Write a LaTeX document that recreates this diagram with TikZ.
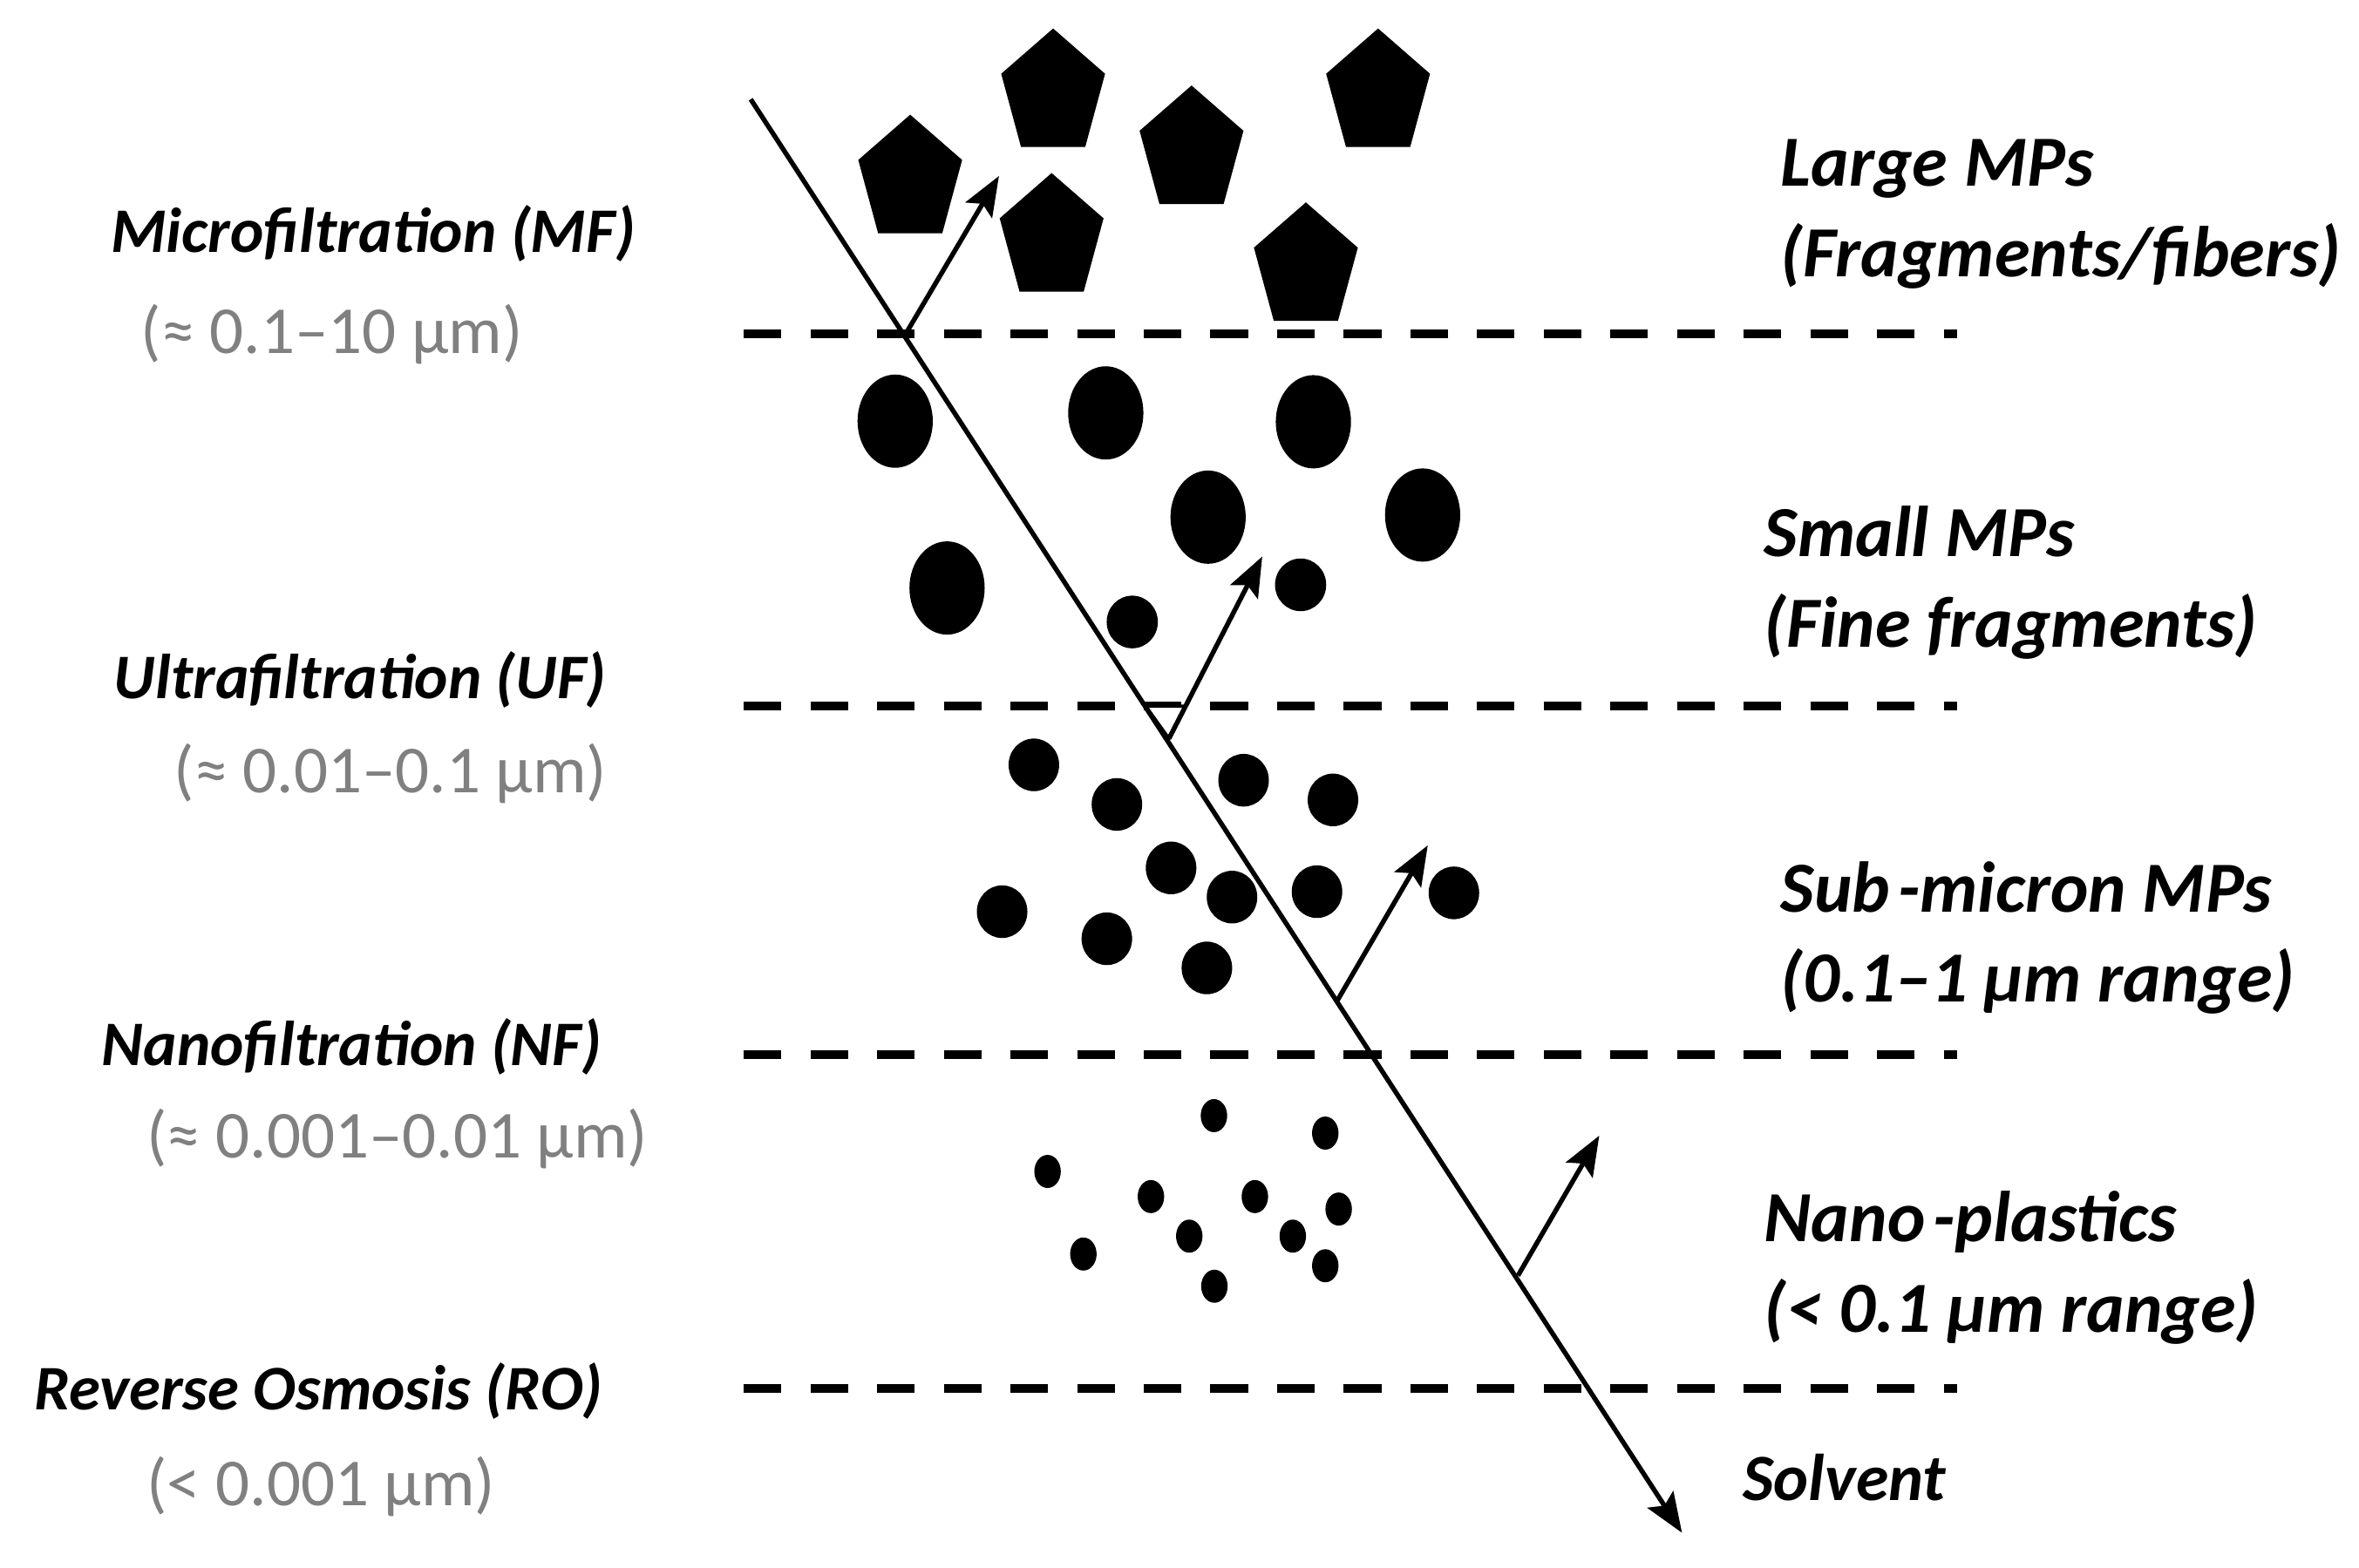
\documentclass[tikz,border=0pt]{standalone}
\usepackage{fontspec}
\setmainfont{Carlito}
\usetikzlibrary{arrows.meta}
\definecolor{graytxt}{RGB}{128,128,128}
\begin{document}
\begin{tikzpicture}[x=0.01cm,y=-0.01cm,
  dashline/.style={line width=1.6pt, dash pattern=on 7.1pt off 5.5pt},
  flowline/.style={line width=0.9pt, -{Stealth[length=7.5pt,width=5.8pt,inset=1.4pt]}},
  proc/.style={anchor=west, inner sep=0pt, font=\fontsize{12}{14}\selectfont\bfseries\itshape},
  rng/.style={anchor=west, inner sep=0pt, text=graytxt, font=\fontsize{12.7}{15}\selectfont},
  cls/.style={anchor=west, inner sep=0pt, align=left, font=\fontsize{13.6}{17.1}\selectfont\bfseries\itshape}]
\useasboundingbox (0,0) rectangle (1568,1042);

% membrane levels (dashed)
\foreach \y/\n in {221.8/mf,469.4/uf,701.2/nf,923/ro}{
  \coordinate (\n-l) at (494.4,\y);
  \coordinate (\n-r) at (1301,\y);
  \draw[dashline] (\n-l) -- (\n-r);
}

% small triangle at UF crossing
\coordinate (t1) at (761.5,469.4);
\coordinate (t2) at (788,469.4);
\coordinate (t3) at (777,491);
\filldraw[fill=white, draw=black, line width=0.6pt] (t1) -- (t2) -- (t3) -- cycle;

% main solvent flow
\coordinate (top) at (499,66);
\coordinate (bot) at (1118,1019);
\draw[flowline] (top) -- (bot);

% rejection arrows
\coordinate (a1s) at (602,222);  \coordinate (a1e) at (664,117);
\coordinate (a2s) at (777,491);  \coordinate (a2e) at (839,370);
\coordinate (a3s) at (889,665);  \coordinate (a3e) at (949,562);
\coordinate (a4s) at (1009,848); \coordinate (a4e) at (1063,755);
\draw[flowline] (a1s) -- (a1e);
\draw[flowline] (a2s) -- (a2e);
\draw[flowline] (a3s) -- (a3e);
\draw[flowline] (a4s) -- (a4e);

% large MPs (pentagons)
\foreach \px/\py in {605/119.8,700/62.5,792/100.4,916/62.5,699/158.6,868/178.1}{
  \fill[shift={(\px,\py)},yscale=1.2] (-90:36.3) -- (-18:36.3) -- (54:36.3) -- (126:36.3) -- (198:36.3) -- cycle;
}

% small MPs (ellipses)
\foreach \px/\py in {595/280,735/274.5,873/280.4,803/343.8,945.6/342.4,629.5/390.9}{
  \fill (\px,\py) ellipse [x radius=25, y radius=31];
}
\foreach \px/\py in {752.6/413.5,864.5/388.8}{
  \fill (\px,\py) ellipse [x radius=17, y radius=17.5];
}

% sub-micron MPs
\foreach \px/\py in {687.2/508.5,742.4/534.8,826.6/518.7,886/531.8,778.4/577,818.9/596.4,875.4/592.8,966.4/593.6,666.1/606.1,735.7/624.1,802.2/643.5}{
  \fill (\px,\py) ellipse [x radius=16.8, y radius=17.5];
}

% nano-plastics
\foreach \px/\py in {806.9/741.7,880.9/753.3,696.3/778.8,765/795.5,834.1/795.5,889.8/803.8,790.5/821.8,859.3/821.8,720.1/833.7,880.9/841.5,807.2/855.1}{
  \fill (\px,\py) ellipse [x radius=8.8, y radius=11];
}

% left labels
\node[proc] (mf) at (73,155) {Microfiltration (MF)};
\node[rng] (mfr) at (93,222) {(≈ 0.1–10 µm)};
\node[proc] (uf) at (75,452) {Ultrafiltration (UF)};
\node[rng] (ufr) at (115,514) {(≈ 0.01–0.1 µm)};
\node[proc] (nf) at (67,696) {Nanofiltration (NF)};
\node[rng] (nfr) at (97,757) {(≈ 0.001–0.01 µm)};
\node[proc] (ro) at (22,925) {Reverse Osmosis (RO)};
\node[rng] (ror) at (97,988) {(< 0.001 µm)};

% right labels
\node[cls] (large) at (1183,142.5) {Large MPs\\(Fragments/fibers)};
\node[cls] (small) at (1172,387.5) {Small MPs\\(Fine fragments)};
\node[cls] (sub) at (1183,623.5) {Sub\kern1.5pt-micron MPs\\(0.1–1 µm range)};
\node[cls] (nano) at (1172,843) {Nano\kern1.5pt-plastics\\(< 0.1 µm range)};
\node[proc, font=\fontsize{12.5}{15}\selectfont\bfseries\itshape] (solv) at (1158,982) {Solvent};
\end{tikzpicture}
\end{document}
